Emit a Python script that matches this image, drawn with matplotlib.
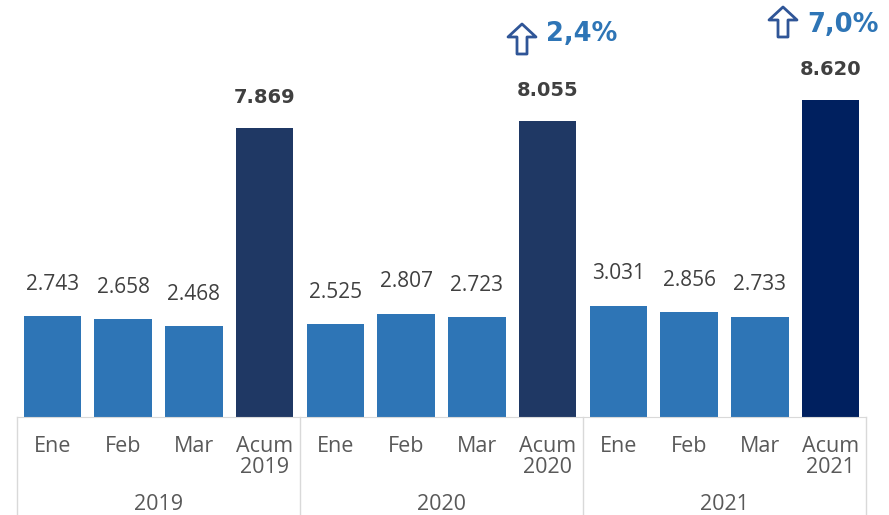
import matplotlib
matplotlib.use("Agg")
import matplotlib.pyplot as plt
from matplotlib.patches import Polygon
from matplotlib.lines import Line2D

months = ["Ene", "Feb", "Mar", "Acum\n2019", "Ene", "Feb", "Mar", "Acum\n2020",
          "Ene", "Feb", "Mar", "Acum\n2021"]
values = [2743, 2658, 2468, 7869, 2525, 2807, 2723, 8055, 3031, 2856, 2733, 8620]
years = ["2019", "2020", "2021"]
growth = ["2,4%", "7,0%"]

def fmt(v):
    return f"{v:,}".replace(",", ".")

W, H = 889, 515
fig = plt.figure(figsize=(W / 100, H / 100), dpi=100)
ax = fig.add_axes([17 / W, (H - 417) / H, 849 / W, 417 / H])
n = len(values)
colors = []
for i in range(n):
    if i == 11:
        colors.append("#00205F")
    elif i % 4 == 3:
        colors.append("#1F3864")
    else:
        colors.append("#2E75B6")
x = list(range(n))
bars = ax.bar(x, values, width=0.81, color=colors, zorder=2)
ax.set_xlim(-0.5, n - 0.5)
ax.set_ylim(0, 11350)
ax.set_yticks([])
for s in ax.spines.values():
    s.set_visible(False)
ax.spines["bottom"].set_visible(True)
ax.spines["bottom"].set_color("#D9D9D9")
ax.tick_params(axis="x", length=0, pad=14)
ax.set_xticks(x)
ax.set_xticklabels(months, fontsize=15.5, color="#595959", family="Open Sans",
                   linespacing=1.0)

for i, v in enumerate(values):
    if i % 4 == 3:
        ax.annotate(fmt(v), (i, v), xytext=(0, 22), textcoords="offset points",
                    ha="center", va="center", fontsize=14, fontweight="bold",
                    color="#404040", family="DejaVu Sans")
    else:
        ax.annotate(fmt(v), (i, v), xytext=(0, 23), textcoords="offset points",
                    ha="center", va="center", fontsize=15, color="#404040",
                    family="Open Sans")

# group separators
sep_color = "#D9D9D9"
for k in range(4):
    xp = (17 + k * 283) / W
    fig.add_artist(Line2D([xp, xp], [0, (H - 417) / H], transform=fig.transFigure,
                          color=sep_color, lw=1))
for g, yr in enumerate(years):
    fig.text((17 + g * 283 + 141.5) / W, (H - 504) / H, yr, ha="center", va="center",
             fontsize=15.5, color="#595959", family="Open Sans")

# growth arrows
def up_arrow(cx, top, h=30, w=28, sw=10, hh=13):
    pts = [(cx, top), (cx + w / 2, top + hh), (cx + sw / 2, top + hh),
           (cx + sw / 2, top + h), (cx - sw / 2, top + h), (cx - sw / 2, top + hh),
           (cx - w / 2, top + hh)]
    pts = [(px / W, (H - py) / H) for px, py in pts]
    fig.add_artist(Polygon(pts, closed=True, transform=fig.transFigure,
                           facecolor="white", edgecolor="#2F5597", lw=2.0,
                           joinstyle="round"))

up_arrow(522, 24)
fig.text(546 / W, (H - 34) / H, growth[0], ha="left", va="center", fontsize=18.5,
         fontweight="bold", color="#2E75B6", family="DejaVu Sans")
up_arrow(783, 7)
fig.text(807 / W, (H - 25) / H, growth[1], ha="left", va="center", fontsize=18.5,
         fontweight="bold", color="#2E75B6", family="DejaVu Sans")

fig.savefig("out.png", dpi=100)
